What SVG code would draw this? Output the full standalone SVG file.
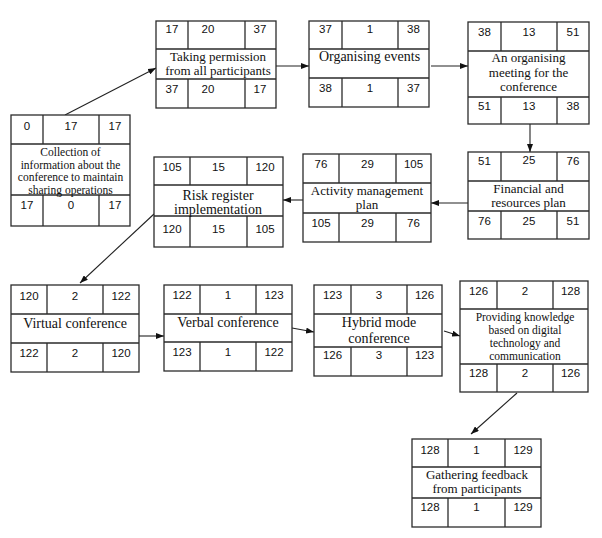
<svg xmlns="http://www.w3.org/2000/svg" width="602" height="538" viewBox="0 0 602 538">
<style>
.box{fill:#fff;stroke:#2b2b2b;stroke-width:1.3}
.grid{fill:none;stroke:#2b2b2b;stroke-width:1.3}
.num{font-family:"Liberation Sans",Arial,sans-serif;font-size:11.5px;fill:#111;text-anchor:middle}
.lbl{font-family:"Liberation Serif","Times New Roman",serif;fill:#111;text-anchor:middle}
.conn{fill:none;stroke:#222;stroke-width:1.1}
</style>
<defs>
<marker id="arr" markerWidth="8" markerHeight="6" refX="8" refY="3" orient="auto" markerUnits="userSpaceOnUse">
<path d="M0,0 L8,3 L0,6 z" fill="#111"/>
</marker>
</defs>
<rect width="602" height="538" fill="#fff"/>

<g id="connectors">
<path class="conn" marker-end="url(#arr)" d="M65,115 L156,68"/>
<path class="conn" marker-end="url(#arr)" d="M276,66 L309,66"/>
<path class="conn" marker-end="url(#arr)" d="M431,66 L468,66"/>
<path class="conn" marker-end="url(#arr)" d="M530,124 L530,152"/>
<path class="conn" marker-end="url(#arr)" d="M468,203 L431,203"/>
<path class="conn" marker-end="url(#arr)" d="M303,200 L283,200"/>
<path class="conn" marker-end="url(#arr)" d="M154,214 L80,283"/>
<path class="conn" marker-end="url(#arr)" d="M132,336 L164,336"/>
<path class="conn" marker-end="url(#arr)" d="M292,328 L314,332"/>
<path class="conn" marker-end="url(#arr)" d="M444,331 L460,336"/>
<path class="conn" marker-end="url(#arr)" d="M517,393 L471,434"/>
</g>

<g id="n1">
<rect class="box" x="11" y="115" width="119" height="111"/>
<path class="grid" d="M11,144 H130 M11,195 H130 M43,115 V144 M99,115 V144 M43,195 V226 M99,195 V226"/>
<text class="num" x="27" y="130">0</text><text class="num" x="71" y="130">17</text><text class="num" x="115" y="130">17</text>
<text class="lbl" font-size="11.5" x="70.5" y="156">Collection of</text>
<text class="lbl" font-size="11.5" x="70.5" y="168.5">information about the</text>
<text class="lbl" font-size="11.5" x="70.5" y="181">conference to maintain</text>
<text class="lbl" font-size="11.5" x="70.5" y="193.5">sharing operations</text>
<text class="num" x="27" y="209">17</text><text class="num" x="71" y="209">0</text><text class="num" x="115" y="209">17</text>
</g>

<g id="n2">
<rect class="box" x="156" y="21" width="120" height="87"/>
<path class="grid" d="M156,49 H276 M156,79 H276 M188,21 V49 M245,21 V49 M188,79 V108 M245,79 V108"/>
<text class="num" x="172" y="33">17</text><text class="num" x="208" y="33">20</text><text class="num" x="260" y="33">37</text>
<text class="lbl" font-size="13" x="218" y="60.5">Taking permission</text>
<text class="lbl" font-size="13" x="218" y="74.5">from all participants</text>
<text class="num" x="172" y="93">37</text><text class="num" x="208" y="93">20</text><text class="num" x="260" y="93">17</text>
</g>

<g id="n3">
<rect class="box" x="309" y="21" width="120" height="86"/>
<path class="grid" d="M309,49 H429 M309,78 H429 M342,21 V49 M398,21 V49 M342,78 V107 M398,78 V107"/>
<text class="num" x="325.5" y="33">37</text><text class="num" x="370" y="33">1</text><text class="num" x="413.5" y="33">38</text>
<text class="lbl" font-size="14" x="369.5" y="61">Organising events</text>
<text class="num" x="325.5" y="92">38</text><text class="num" x="370" y="92">1</text><text class="num" x="413.5" y="92">37</text>
</g>

<g id="n4">
<rect class="box" x="468" y="22" width="121" height="102"/>
<path class="grid" d="M468,51 H589 M468,97 H589 M501,22 V51 M557,22 V51 M501,97 V124 M557,97 V124"/>
<text class="num" x="484.5" y="36">38</text><text class="num" x="529" y="36">13</text><text class="num" x="573" y="36">51</text>
<text class="lbl" font-size="13" x="528.5" y="62">An organising</text>
<text class="lbl" font-size="13" x="528.5" y="77">meeting for the</text>
<text class="lbl" font-size="13" x="528.5" y="91">conference</text>
<text class="num" x="484.5" y="110">51</text><text class="num" x="529" y="110">13</text><text class="num" x="573" y="110">38</text>
</g>

<g id="n5">
<rect class="box" x="468" y="152" width="121" height="87"/>
<path class="grid" d="M468,181 H589 M468,211 H589 M501,152 V181 M557,152 V181 M501,211 V239 M557,211 V239"/>
<text class="num" x="484.5" y="165">51</text><text class="num" x="529" y="164">25</text><text class="num" x="573" y="165">76</text>
<text class="lbl" font-size="13" x="528.5" y="192.5">Financial and</text>
<text class="lbl" font-size="13" x="528.5" y="206.5">resources plan</text>
<text class="num" x="484.5" y="225">76</text><text class="num" x="529" y="225">25</text><text class="num" x="573" y="225">51</text>
</g>

<g id="n6">
<rect class="box" x="303" y="154" width="128" height="88"/>
<path class="grid" d="M303,183 H431 M303,213 H431 M339,154 V183 M396,154 V183 M339,213 V242 M396,213 V242"/>
<text class="num" x="321" y="168">76</text><text class="num" x="367.5" y="168">29</text><text class="num" x="413.5" y="168">105</text>
<text class="lbl" font-size="13" x="367" y="195">Activity management</text>
<text class="lbl" font-size="13" x="367" y="209">plan</text>
<text class="num" x="321" y="227">105</text><text class="num" x="367.5" y="227">29</text><text class="num" x="413.5" y="227">76</text>
</g>

<g id="n7">
<rect class="box" x="154" y="157" width="129" height="90"/>
<path class="grid" d="M154,185 H283 M154,216 H283 M190,157 V185 M247,157 V185 M190,216 V247 M247,216 V247"/>
<text class="num" x="172" y="171">105</text><text class="num" x="218.5" y="171">15</text><text class="num" x="265" y="171">120</text>
<text class="lbl" font-size="14" x="218" y="200">Risk register</text>
<text class="lbl" font-size="14" x="218" y="214">implementation</text>
<text class="num" x="172" y="233">120</text><text class="num" x="218.5" y="233">15</text><text class="num" x="265" y="233">105</text>
</g>

<g id="n8">
<rect class="box" x="11" y="285" width="128" height="87"/>
<path class="grid" d="M11,314 H139 M11,343 H139 M47,285 V314 M103,285 V314 M47,343 V372 M103,343 V372"/>
<text class="num" x="29" y="300">120</text><text class="num" x="75" y="300">2</text><text class="num" x="121" y="300">122</text>
<text class="lbl" font-size="14" x="75" y="328">Virtual conference</text>
<text class="num" x="29" y="357">122</text><text class="num" x="75" y="357">2</text><text class="num" x="121" y="357">120</text>
</g>

<g id="n9">
<rect class="box" x="164" y="285" width="128" height="86"/>
<path class="grid" d="M164,314 H292 M164,342 H292 M200,285 V314 M256,285 V314 M200,342 V371 M256,342 V371"/>
<text class="num" x="182" y="299">122</text><text class="num" x="228" y="299">1</text><text class="num" x="274" y="299">123</text>
<text class="lbl" font-size="14" x="228" y="327">Verbal conference</text>
<text class="num" x="182" y="356">123</text><text class="num" x="228" y="356">1</text><text class="num" x="274" y="356">122</text>
</g>

<g id="n10">
<rect class="box" x="314" y="285" width="128" height="91"/>
<path class="grid" d="M314,314 H442 M314,347 H442 M351,285 V314 M407,285 V314 M351,347 V376 M407,347 V376"/>
<text class="num" x="332.5" y="299">123</text><text class="num" x="379" y="299">3</text><text class="num" x="424.5" y="299">126</text>
<text class="lbl" font-size="14" x="379" y="327">Hybrid mode</text>
<text class="lbl" font-size="14" x="379" y="343">conference</text>
<text class="num" x="332.5" y="359">126</text><text class="num" x="379" y="359">3</text><text class="num" x="424.5" y="359">123</text>
</g>

<g id="n11">
<rect class="box" x="460" y="281" width="128" height="111"/>
<path class="grid" d="M460,309 H588 M460,364 H588 M497,281 V309 M553,281 V309 M497,364 V392 M553,364 V392"/>
<text class="num" x="478.5" y="295">126</text><text class="num" x="525" y="295">2</text><text class="num" x="570.5" y="295">128</text>
<text class="lbl" font-size="11.5" x="525" y="321">Providing knowledge</text>
<text class="lbl" font-size="11.5" x="525" y="334">based on digital</text>
<text class="lbl" font-size="11.5" x="525" y="347">technology and</text>
<text class="lbl" font-size="11.5" x="525" y="360">communication</text>
<text class="num" x="478.5" y="377">128</text><text class="num" x="525" y="377">2</text><text class="num" x="570.5" y="377">126</text>
</g>

<g id="n12">
<rect class="box" x="412" y="439" width="129" height="88"/>
<path class="grid" d="M412,467 H541 M412,498 H541 M448,439 V467 M505,439 V467 M448,498 V527 M505,498 V527"/>
<text class="num" x="430" y="454">128</text><text class="num" x="476.5" y="454">1</text><text class="num" x="523" y="454">129</text>
<text class="lbl" font-size="13" x="477" y="478.5">Gathering feedback</text>
<text class="lbl" font-size="13" x="477" y="492.5">from participants</text>
<text class="num" x="430" y="511">128</text><text class="num" x="476.5" y="511">1</text><text class="num" x="523" y="511">129</text>
</g>
</svg>
